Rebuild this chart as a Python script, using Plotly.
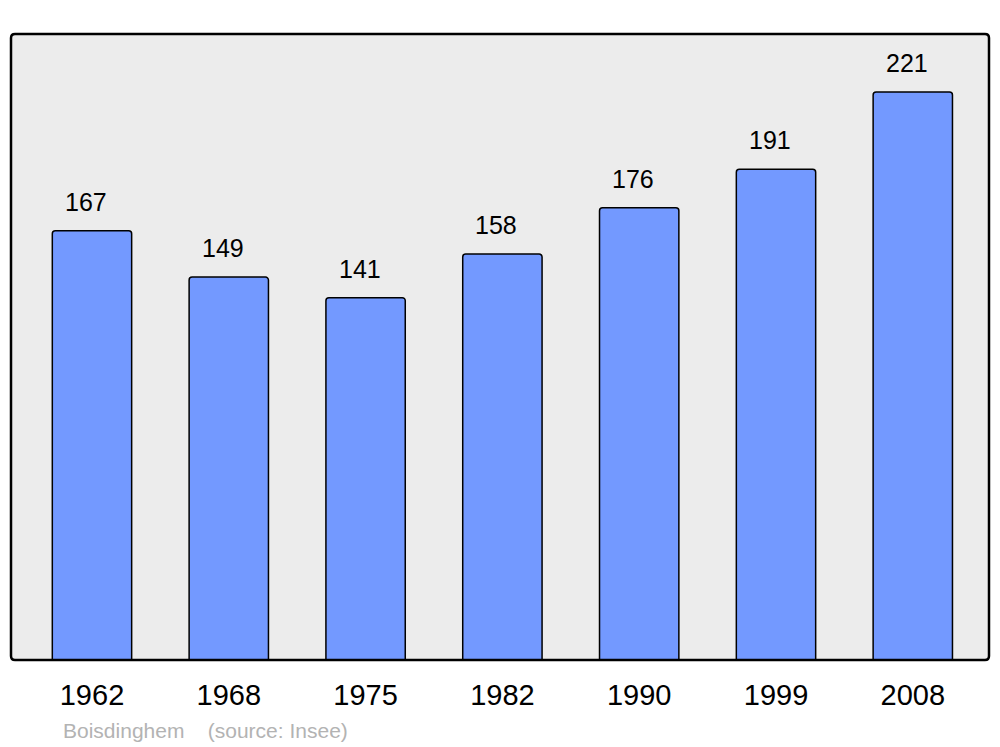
import plotly.graph_objects as go

years = ["1962", "1968", "1975", "1982", "1990", "1999", "2008"]
population = [167, 149, 141, 158, 176, 191, 221]
town = "Boisdinghem"
source = "(source: Insee)"

FONT = "Liberation Sans, Arial, sans-serif"

fig = go.Figure()
fig.add_trace(go.Bar(
    x=years, y=population, width=0.58,
    marker=dict(color="#7399ff", line=dict(color="#000000", width=1.5), cornerradius=3),
    hoverinfo="skip",
))

for i, v in enumerate(population):
    fig.add_annotation(x=i, y=v, text=str(v), showarrow=False, yanchor="bottom",
                       yshift=13, xshift=-6, font=dict(size=25, color="#000000", family=FONT))

L, R, T, B = 11, 11, 34, 87
W, H = 1000, 747
pw, ph = W - L - R, H - T - B
rx, ry = 4 / pw, 4 / ph
path = (f"M {rx} 0 L {1-rx} 0 Q 1 0 1 {ry} L 1 {1-ry} Q 1 1 {1-rx} 1 "
        f"L {rx} 1 Q 0 1 0 {1-ry} L 0 {ry} Q 0 0 {rx} 0 Z")
fig.add_shape(type="path", path=path, xref="paper", yref="paper",
              line=dict(color="#000000", width=2.5), layer="above")

fig.add_annotation(x=(61 - L) / pw, y=(H - B - 730) / ph, xref="paper", yref="paper",
                   text=f"{town}&nbsp;&nbsp;&nbsp;&nbsp;{source}",
                   showarrow=False, font=dict(size=21, color="#b3b3b3", family=FONT),
                   xanchor="left", yanchor="middle")

fig.update_layout(
    width=W, height=H,
    margin=dict(l=L, r=R, t=T, b=B, pad=0),
    paper_bgcolor="#ffffff", plot_bgcolor="#ececec",
    showlegend=False,
    font=dict(family=FONT, color="#000000"),
    xaxis=dict(type="category", range=[-0.592, 6.557], showgrid=False, zeroline=False,
               showline=False, ticks="", tickfont=dict(size=29, family=FONT, color="#000000"),
               ticklabelstandoff=15),
    yaxis=dict(range=[0, 243.6], showgrid=False, zeroline=False, showline=False,
               showticklabels=False, ticks=""),
)

fig.write_html("out.html", config={"displayModeBar": False},
               post_script="document.body.style.margin='0';document.body.style.overflow='hidden';")
